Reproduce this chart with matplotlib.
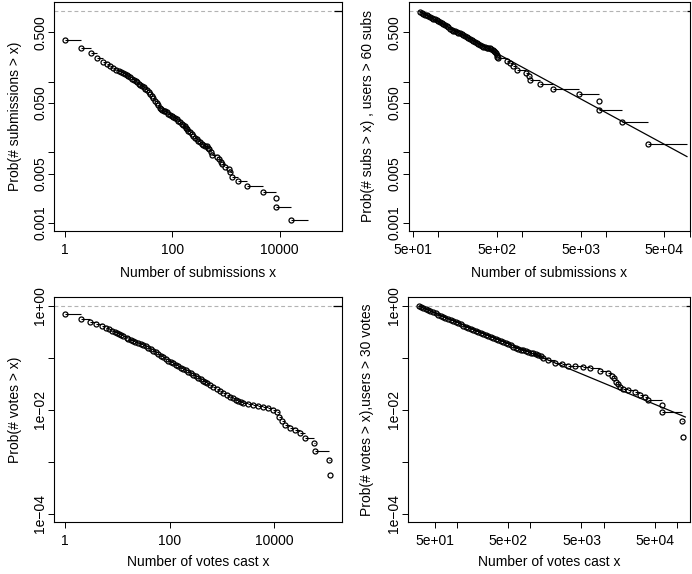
import matplotlib.pyplot as plt
from matplotlib.ticker import NullLocator

plt.rcParams['font.family'] = ['Liberation Sans', 'DejaVu Sans']
plt.rcParams['font.size'] = 10

# --- top left: all users, submissions ---
subs_x = [1, 2, 3, 4, 5, 6, 7, 8, 9, 10, 11, 12, 13, 14, 15, 16, 18, 19, 21, 22,
          24, 25, 27, 29, 31, 33, 36, 38, 41, 44, 48, 51, 55, 59, 62, 65, 69, 73,
          78, 84, 90, 97, 104, 112, 120, 129, 139, 149, 160, 172, 178, 185, 198,
          213, 229, 245, 264, 284, 305, 327, 350, 376, 405, 435, 460, 487, 516,
          540, 668, 747, 803, 828, 955, 1148, 1183, 1304, 1687, 2420, 4930,
          8490, 8490, 16500]
subs_p = [0.389, 0.297, 0.252, 0.219, 0.192, 0.178, 0.168, 0.156, 0.148, 0.140,
          0.137, 0.133, 0.128, 0.124, 0.119, 0.115, 0.110, 0.107, 0.102, 0.099,
          0.094, 0.0907, 0.087, 0.0834, 0.079, 0.0755, 0.0715, 0.0676, 0.063,
          0.0588, 0.054, 0.050, 0.046, 0.0425, 0.041, 0.0394, 0.0387, 0.0381,
          0.0367, 0.0352, 0.034, 0.033, 0.0318, 0.0307, 0.0294, 0.0281, 0.0266,
          0.0252, 0.0243, 0.0234, 0.0223, 0.0212, 0.0202, 0.0192, 0.0182,
          0.0172, 0.0162, 0.0153, 0.0146, 0.0139, 0.0133, 0.0128, 0.0124,
          0.0121, 0.0116, 0.0112, 0.0102, 0.0092, 0.0085, 0.0080, 0.0074,
          0.00686, 0.00628, 0.00577, 0.00533, 0.00453, 0.00389, 0.00333,
          0.00278, 0.00224, 0.00167, 0.00112]
subs_tail = 32800

# --- top right: users with > 60 submissions ---
heavy_subs_x = [60, 63, 66, 69, 72, 75, 79, 83, 87, 91, 95, 99, 104, 109, 114,
                120, 125, 131, 137, 144, 150, 157, 165, 173, 181, 189, 198, 207,
                217, 227, 238, 249, 261, 273, 286, 299, 313, 328, 343, 360, 377,
                394, 412, 428, 444, 458, 473, 484, 496, 507, 519, 658, 725, 787,
                859, 1096, 1190, 1247, 1642, 2355, 4810, 8220, 8220, 15660, 31700]
heavy_subs_p = [0.97, 0.928, 0.907, 0.887, 0.868, 0.85, 0.825, 0.80, 0.78, 0.76,
                0.74, 0.72, 0.70, 0.68, 0.657, 0.634, 0.611, 0.588, 0.563, 0.538,
                0.526, 0.518, 0.509, 0.496, 0.484, 0.471, 0.458, 0.445, 0.433,
                0.417, 0.402, 0.389, 0.376, 0.366, 0.356, 0.343, 0.330, 0.321,
                0.313, 0.308, 0.303, 0.300, 0.297, 0.289, 0.281, 0.273, 0.266,
                0.252, 0.239, 0.226, 0.214, 0.196, 0.182, 0.165, 0.145, 0.134,
                0.120, 0.106, 0.0927, 0.0796, 0.0664, 0.0533, 0.0398, 0.0267,
                0.0133]
heavy_subs_tail = 93000
heavy_subs_fit_x = [60, 93000]
heavy_subs_fit_p = [0.98, 0.0087]

# --- bottom left: all users, votes ---
votes_x = [1, 2, 3, 4, 5, 6, 7, 8, 9, 10, 11, 12, 13, 15, 16, 18, 20, 22, 25, 28,
           31, 35, 39, 44, 49, 55, 61, 68, 76, 85, 94, 105, 118, 132, 147, 164,
           183, 204, 228, 254, 284, 317, 354, 395, 441, 475, 512, 590, 685, 795,
           920, 1070, 1236, 1430, 1652, 1850, 2060, 2300, 2567, 3200, 3985, 4966,
           6190, 7710, 9610, 11170, 12510, 13900, 16100, 20050, 25000, 31100,
           38800, 58400, 60300, 113000, 115000]
votes_p = [0.692, 0.555, 0.499, 0.454, 0.412, 0.382, 0.356, 0.330, 0.311, 0.302,
           0.289, 0.276, 0.264, 0.245, 0.234, 0.221, 0.209, 0.200, 0.191, 0.183,
           0.175, 0.166, 0.157, 0.148, 0.138, 0.128, 0.119, 0.111, 0.103, 0.095,
           0.0883, 0.083, 0.0787, 0.074, 0.0698, 0.065, 0.0611, 0.0575, 0.0542,
           0.0508, 0.0474, 0.0444, 0.0415, 0.0388, 0.0363, 0.0347, 0.033, 0.030,
           0.027, 0.025, 0.023, 0.021, 0.0195, 0.018, 0.0167, 0.0157, 0.0148,
           0.014, 0.0133, 0.0129, 0.0124, 0.0118, 0.0115, 0.0107, 0.0099,
           0.00895, 0.00736, 0.00616, 0.00509, 0.00452, 0.00408, 0.00362,
           0.00282, 0.00226, 0.00163, 0.00110, 0.000554]
votes_tail = None

# --- bottom right: users with > 30 votes ---
heavy_votes_x = [30, 32, 34, 37, 40, 43, 47, 51, 55, 59, 64, 69, 75, 81, 88, 95,
                 103, 112, 121, 131, 141, 153, 166, 180, 194, 210, 227, 246, 266,
                 288, 311, 337, 364, 394, 426, 461, 499, 540, 583, 632, 683, 740,
                 800, 865, 935, 1015, 1096, 1190, 1283, 1390, 1500, 1757, 2172,
                 2680, 3300, 4070, 5290, 6530, 8950, 11640, 12950, 13930, 14830,
                 15940, 16830, 18660, 21840, 26970, 31570, 36980, 41020, 62550,
                 64100, 116700, 121300]
heavy_votes_p = [0.99, 0.96, 0.927, 0.88, 0.837, 0.795, 0.756, 0.717, 0.680,
                 0.646, 0.614, 0.587, 0.562, 0.537, 0.514, 0.489, 0.464, 0.44,
                 0.417, 0.396, 0.377, 0.361, 0.345, 0.332, 0.320, 0.306, 0.293,
                 0.280, 0.268, 0.256, 0.245, 0.234, 0.224, 0.214, 0.205, 0.196,
                 0.188, 0.176, 0.164, 0.157, 0.150, 0.145, 0.140, 0.135, 0.130,
                 0.1265, 0.123, 0.1175, 0.112, 0.1065, 0.101, 0.0931, 0.0809,
                 0.0763, 0.0707, 0.0698, 0.0677, 0.0630, 0.0567, 0.0505, 0.0448,
                 0.0404, 0.0348, 0.0314, 0.0271, 0.0248, 0.0241, 0.0217, 0.0193,
                 0.0179, 0.0154, 0.0123, 0.0092, 0.00608, 0.00302]
heavy_votes_tail = None
heavy_votes_fit_x = [30, 131500]
heavy_votes_fit_p = [0.98, 0.00727]

# axis ticks
x_ticks_all = [1, 100, 10000]
x_labels_all = ['1', '100', '10000']
x_ticks_heavy = [50, 100, 500, 1000, 5000, 10000, 50000, 100000]
x_labels_heavy = ['5e+01', '', '5e+02', '', '5e+03', '', '5e+04', '']
y_ticks_subs = [0.001, 0.005, 0.01, 0.05, 0.1, 0.5]
y_labels_subs = ['0.001', '0.005', '', '0.050', '', '0.500']
y_ticks_votes = [1e-4, 1e-3, 1e-2, 1e-1, 1]
y_labels_votes = ['1e\u221204', '', '1e\u221202', '', '1e+00']

W, H = 692, 574
fig = plt.figure(figsize=(W / 100, H / 100), dpi=100)


def px_axes(left, top, right, bottom):
    return fig.add_axes([left / W, 1 - bottom / H, (right - left) / W, (bottom - top) / H])


def ccdf_panel(ax, x, p, tail, end_x, xlim, ylim, xt, xl, yt, yl,
               xlabel, ylabel, ylab_off, xlab_off, fit=None):
    ax.set_xscale('log')
    ax.set_yscale('log')
    ax.set_xlim(*xlim)
    ax.set_ylim(*ylim)
    ax.axhline(1, color='#b3b3b3', lw=0.8, ls=(0, (3.5, 2.5)), zorder=1)
    ax.hlines(1, end_x, xlim[1], color='black', lw=0.9, zorder=2)
    ends = list(x[1:]) + [tail if tail else x[-1]]
    ax.hlines(p, x, ends, color='black', lw=0.8, zorder=2)
    if fit is not None:
        ax.plot(fit[0], fit[1], color='black', lw=0.9, zorder=3)
    ax.plot(x, p, 'o', ms=3.6, mfc='none', mec='black', mew=0.9,
            zorder=4, linestyle='none')
    ax.xaxis.set_minor_locator(NullLocator())
    ax.yaxis.set_minor_locator(NullLocator())
    ax.set_xticks(xt)
    ax.set_xticklabels(xl)
    ax.set_yticks(yt)
    ax.set_yticklabels(yl, rotation=90, va='center')
    ax.tick_params(length=4.1, width=0.7, direction='out', labelsize=10)
    ax.tick_params(axis='x', pad=4.5)
    ax.tick_params(axis='y', pad=0.8)
    for s in ax.spines.values():
        s.set_linewidth(0.8)
    ax.set_xlabel(xlabel, fontsize=10)
    ax.set_ylabel(ylabel, fontsize=10)
    ax.xaxis.set_label_coords(0.5, xlab_off)
    ax.xaxis.label.set_va('center')
    ax.yaxis.set_label_coords(ylab_off, 0.5)
    ax.yaxis.label.set_va('center')


ax1 = px_axes(54, 2, 342, 231)
ccdf_panel(ax1, subs_x, subs_p, subs_tail, 1e5, (0.624, 143900), (0.00077, 1.34),
           x_ticks_all, x_labels_all, y_ticks_subs, y_labels_subs,
           'Number of submissions x', 'Prob(# submissions > x)', -0.135, -0.183)

ax2 = px_axes(408.7, 2, 690, 231)
ccdf_panel(ax2, heavy_subs_x, heavy_subs_p, heavy_subs_tail, 93000, (44.1, 101100),
           (0.00077, 1.34), x_ticks_heavy, x_labels_heavy, y_ticks_subs, y_labels_subs,
           'Number of submissions x', 'Prob(# subs > x) , users > 60 subs', -0.146, -0.183,
           fit=(heavy_subs_fit_x, heavy_subs_fit_p))

ax3 = px_axes(54, 297, 342, 522)
ccdf_panel(ax3, votes_x, votes_p, votes_tail, 1.33e5, (0.616, 197800), (6.9e-5, 1.49),
           x_ticks_all, x_labels_all, y_ticks_votes, y_labels_votes,
           'Number of votes cast x', 'Prob(# votes > x)', -0.135, -0.178)

ax4 = px_axes(408.3, 297, 690, 522)
ccdf_panel(ax4, heavy_votes_x, heavy_votes_p, heavy_votes_tail, 134000, (21.4, 152400),
           (6.9e-5, 1.49), x_ticks_heavy, x_labels_heavy, y_ticks_votes, y_labels_votes,
           'Number of votes cast x', 'Prob(# votes > x),users > 30 votes', -0.146, -0.178,
           fit=(heavy_votes_fit_x, heavy_votes_fit_p))

fig.savefig('out.png', dpi=100)
